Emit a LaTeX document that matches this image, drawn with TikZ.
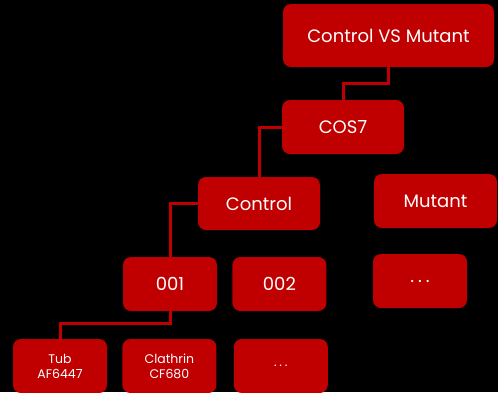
\documentclass[tikz,border=0pt]{standalone}
\usepackage{fontspec}
\setmainfont{Poppins}
\usetikzlibrary{positioning}
\definecolor{boxred}{RGB}{192,0,0}
\newcommand{\etcdots}{.\hspace{0.22em}.\hspace{0.22em}.}

\begin{document}
\begin{tikzpicture}[%
	    x=1pt,
	    y=-1pt,
	    node distance=15pt,
	    box/.style={draw=none, fill=boxred, text=white, rounded corners=8pt,
	                inner sep=0pt, align=center, font=\fontsize{18}{20}\selectfont},
	    leaf/.style={box, minimum width=94pt, minimum height=54pt},
	    tiny/.style={leaf, font=\fontsize{12.5}{15}\selectfont},
	    link/.style={draw=boxred, line width=3pt}
	  ]

	  % background and frame
	  \fill[black] (0,0) rectangle (498,392);
	  \useasboundingbox (0,0) rectangle (498,392);

	  \node[box, minimum width=211pt, minimum height=63pt] (top) at (388.5,35.5) {Control VS Mutant};
	  \node[box, minimum width=122pt, minimum height=54pt] (cos7) at (343,127) {COS7};
	  \node[box, minimum width=122pt, minimum height=53pt] (ctrl) at (259,203.5) {Control};
	  \node[box, minimum width=123pt, minimum height=54pt] (mut) at (435.5,201) {Mutant};

	  \node[leaf] (s001) at (170,284) {001};
	  \node[leaf] (s002) [right=of s001] {002};
	  \node[leaf] (sdots) at (420,281) {\etcdots};

	  \node[tiny] (tub) at (60,366) {Tub\\AF6447};
	  \node[tiny] (clat) [right=of tub] {Clathrin\\CF680};
	  \node[tiny] (adots) [right=17pt of clat] {\etcdots};

	  \path[link]
	      (top.south) -- ++(0,16) -| (cos7.north)
	      (cos7.west) -| (ctrl.north)
	      (ctrl.west) -| (s001.north)
	      (s001.south) -- ++(0,12) -| (tub.north);

\end{tikzpicture}
\end{document}
